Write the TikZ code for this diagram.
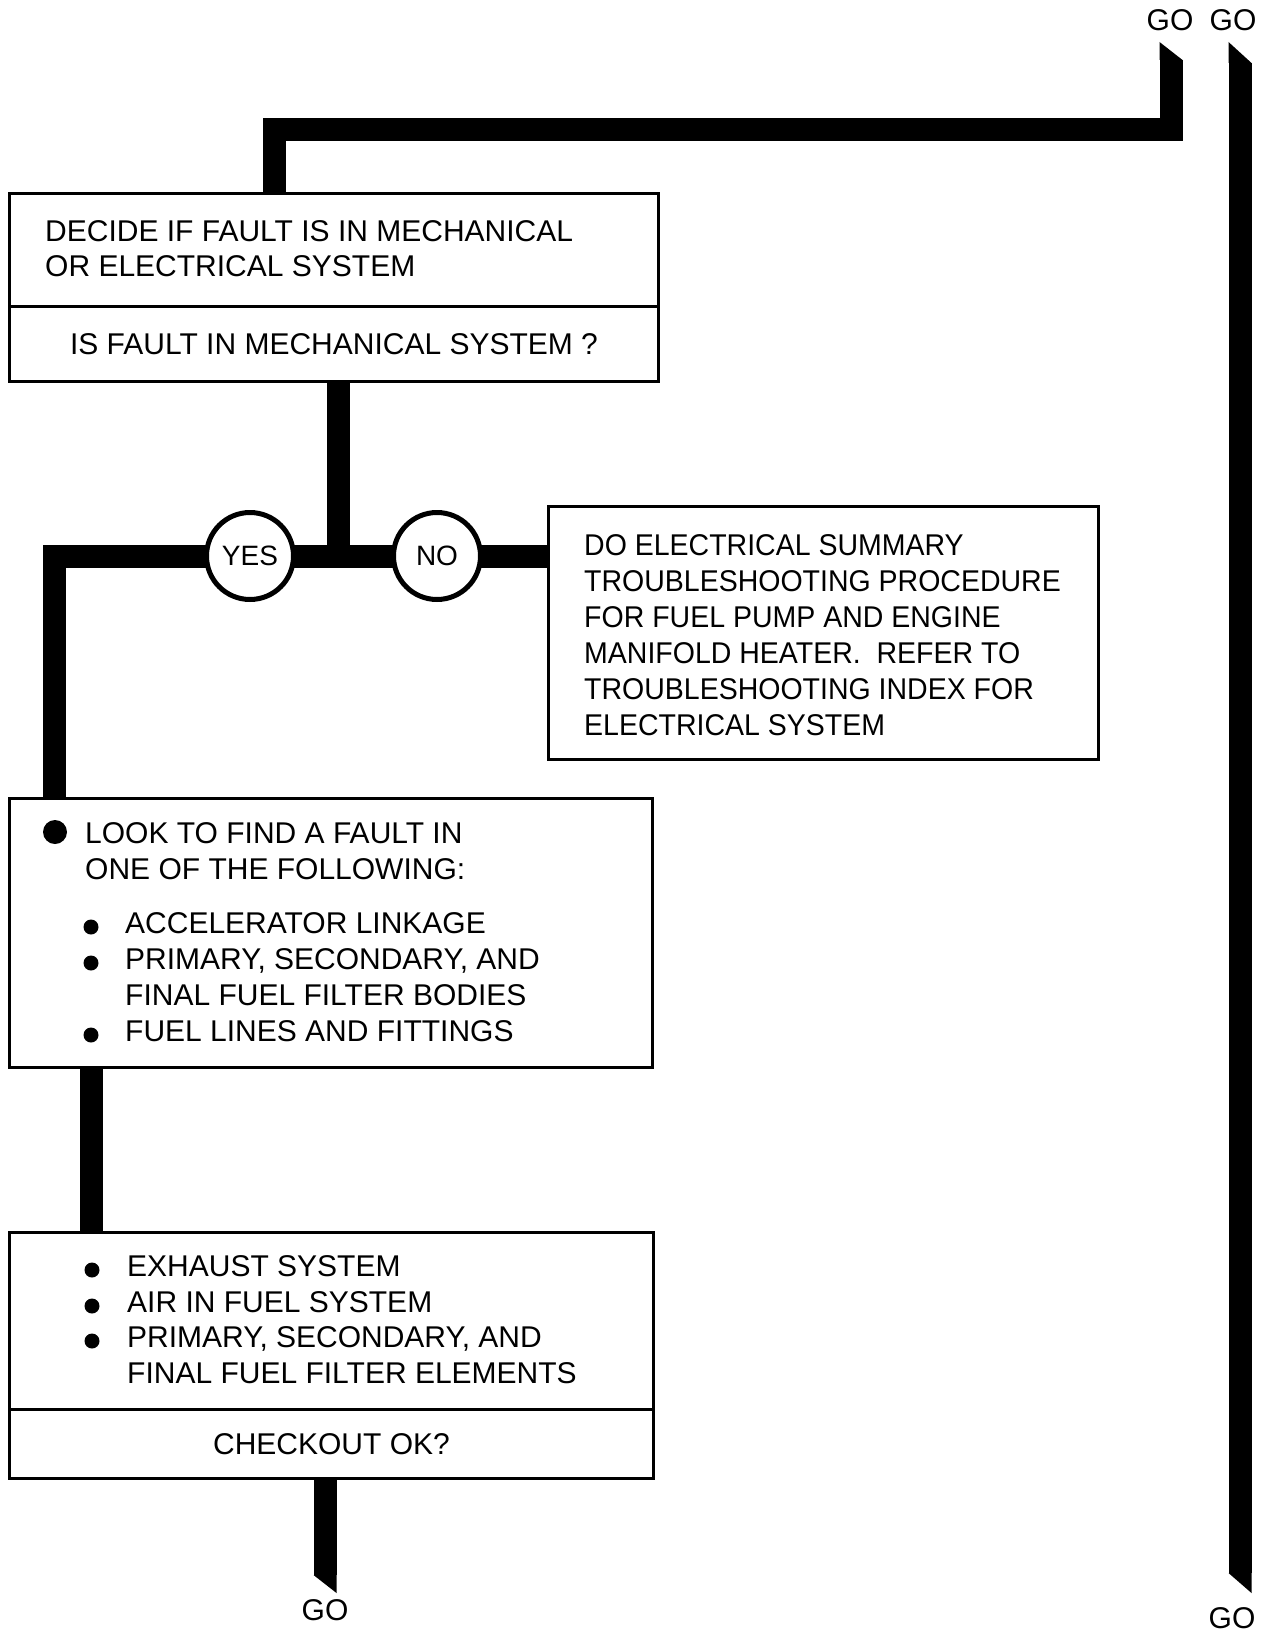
\documentclass[tikz,border=0pt]{standalone}
\usepackage{fontspec}
\setmainfont{Liberation Sans}
\newfontfamily\narrowfont[FakeStretch=0.95]{Liberation Sans}
\begin{document}
\begin{tikzpicture}[x=1pt,y=-1pt,
  conn/.style={line width=23pt, line join=miter, line cap=butt},
  box/.style={draw, line width=3pt, rectangle, inner sep=0pt, anchor=north west, font=\fontsize{30}{36}\selectfont},
  txt/.style={inner sep=0pt, anchor=base west, font=\fontsize{30}{36}\selectfont},
  ntxt/.style={inner sep=0pt, anchor=base west, font=\narrowfont\fontsize{30}{36}\selectfont},
  ctxt/.style={inner sep=0pt, font=\fontsize{30}{36}\selectfont},
  ring/.style={circle, draw, line width=5pt, fill=white, minimum size=87pt, inner sep=0pt, font=\fontsize{28}{32}\selectfont},
  bigdot/.style={circle, fill, minimum size=24pt, inner sep=0pt},
  smalldot/.style={circle, fill, minimum size=15pt, inner sep=0pt},
]
\useasboundingbox (0,0) rectangle (1275,1635);

% boxes
\node[box, minimum width=649pt, minimum height=113pt] (b1a) at (8,192) {};
\node[box, minimum width=649pt, minimum height=75pt] (b1b) at (8,305) {IS FAULT IN MECHANICAL SYSTEM ?};
\node[box, minimum width=550pt, minimum height=253pt] (nob) at (547,505) {};
\node[box, minimum width=643pt, minimum height=269pt] (b2) at (8,797) {};
\node[box, minimum width=644pt, minimum height=177pt] (b3a) at (8,1231) {};
\node[box, minimum width=644pt, minimum height=69pt] (b3b) at (8,1408) {CHECKOUT OK?};

% box 1 text
\node[txt] (t1a) at (45,241) {DECIDE IF FAULT IS IN MECHANICAL};
\node[txt] (t1b) at (45,276) {OR ELECTRICAL SYSTEM};

% NO box text
\node[ntxt] (n1) at (584,555) {DO ELECTRICAL SUMMARY};
\node[ntxt] (n2) at (584,591) {TROUBLESHOOTING PROCEDURE};
\node[ntxt] (n3) at (584,627) {FOR FUEL PUMP AND ENGINE};
\node[ntxt] (n4) at (584,663) {MANIFOLD HEATER.\ \ REFER TO};
\node[ntxt] (n5) at (584,699) {TROUBLESHOOTING INDEX FOR};
\node[ntxt] (n6) at (584,735) {ELECTRICAL SYSTEM};

% box 2 text
\node[bigdot] (d0) at (55,832) {};
\node[txt] (m1) at (85,843) {LOOK TO FIND A FAULT IN};
\node[txt] (m2) at (85,879) {ONE OF THE FOLLOWING:};
\node[smalldot] (d1) at (91,927) {};
\node[txt] (m3) at (125,933) {ACCELERATOR LINKAGE};
\node[smalldot] (d2) at (91,963) {};
\node[txt] (m4) at (125,969) {PRIMARY, SECONDARY, AND};
\node[txt] (m5) at (125,1005) {FINAL FUEL FILTER BODIES};
\node[smalldot] (d3) at (91,1035) {};
\node[txt] (m6) at (125,1041) {FUEL LINES AND FITTINGS};

% box 3 text
\node[smalldot] (e1) at (92,1270) {};
\node[txt] (k1) at (127,1276) {EXHAUST SYSTEM};
\node[smalldot] (e2) at (92,1306) {};
\node[txt] (k2) at (127,1312) {AIR IN FUEL SYSTEM};
\node[smalldot] (e3) at (92,1341) {};
\node[txt] (k3) at (127,1347) {PRIMARY, SECONDARY, AND};
\node[txt] (k4) at (127,1383) {FINAL FUEL FILTER ELEMENTS};

% GO labels
\node[ctxt] (goA) at (1170,20) {GO};
\node[ctxt] (goB) at (1233,20) {GO};
\node[ctxt] (goC) at (325,1610) {GO};
\node[ctxt] (goD) at (1232,1618) {GO};

% connector from top GO into box 1
\coordinate (j1) at (274,130);
\coordinate (j2) at (1171,130);
\coordinate (goAend) at (1171,60);
\draw[conn] (b1a.north -| j1) -- (j1) -- (j2) -- (goAend);
\fill (goAend) ++(-11.5,0) -- ++(0,-18) -- ++(23,18) -- cycle;

% long right line
\coordinate (rt) at (1240,63);
\coordinate (rb) at (1240,1573);
\draw[conn] (rt) -- (rb);
\fill (rt) ++(-11.5,0) -- ++(0,-21) -- ++(23,21) -- cycle;
\fill (rb) ++(-11.5,0) -- ++(23,0) -- ++(0,20) -- cycle;

% decision branches
\coordinate (jm) at (338,556);
\coordinate (jl) at (54.5,556);
\draw[conn] (b1b.south -| jm) -- (jm);
\draw[conn] (nob.west |- jm) -- (jl) -- (b2.north -| jl);
\node[ring] (yes) at (250,556) {YES};
\node[ring] (no) at (437,556) {NO};

% box 2 to box 3
\coordinate (c23) at (91,1100);
\draw[conn] (b2.south -| c23) -- (b3a.north -| c23);

% bottom exit
\coordinate (bb) at (325,1575);
\draw[conn] (b3b.south -| bb) -- (bb);
\fill (bb) ++(-11.5,0) -- ++(23,0) -- ++(0,18) -- cycle;
\end{tikzpicture}
\end{document}
